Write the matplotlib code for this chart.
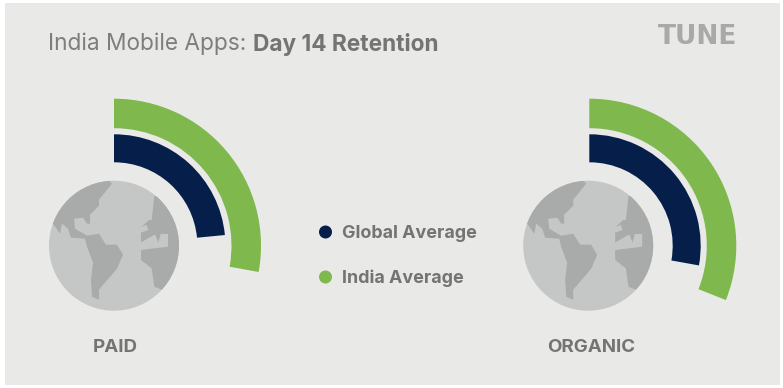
import matplotlib
matplotlib.use("Agg")
import matplotlib.pyplot as plt
import numpy as np
from matplotlib.patches import Circle, Polygon, Rectangle

W, H = 783, 388
BG = "#e9e9e7"
NAVY = "#061f4a"
GREEN = "#7fb84d"
GLOBE = "#c5c7c6"
LAND = "#a9abaa"
TEXT = "#737473"

# sweep of each arc, degrees clockwise from 12 o'clock
panels = ["PAID", "ORGANIC"]
global_avg = [84.5, 100.2]
india_avg = [100.3, 111.7]
legend_labels = ["Global Average", "India Average"]

centers_x = [114, 589.3]
globe_x = [114, 588.2]
label_x = [115, 591.5]
center_y = 245.7

# globe land shapes, pixels from the globe centre
land_left = [(-61, -22), (-54, -12), (-52, -22), (-46, -17), (-43, -8), (-29, -7), (-27, 1),
             (-21, 17), (-23, 34), (-22, 51), (-15, 54), (-15, 44), (3, 23), (9, 9), (3, -1),
             (-8, -1), (-15, -12), (-27, -10), (-39, -17), (-40, -27), (-31, -28), (-27, -22),
             (-24, -22), (-24, -31), (-15, -40), (-15, -46), (-2, -62), (-9, -70), (-70, -70), (-70, -22)]
land_right = [(40.3, -49.7), (37.7, -25.7), (35, -25.7), (27.7, -19), (32.7, -20.7), (34.3, -15.7),
              (27, -13), (27, -3.3), (41, -11.3), (44.3, -3.3), (46.7, -11.7), (54, -11.7), (54, 1),
              (27, 4.3), (27, 14.3), (37.7, 22.7), (40.3, 41), (48.7, 44.3), (75, 40), (75, -50)]


def draw_globe(ax, cx, cy):
    disc = Circle((cx, cy), 65, color=GLOBE, lw=0, zorder=1)
    ax.add_patch(disc)
    for shape in [land_left, land_right]:
        pts = [(cx + p[0], cy + p[1]) for p in shape]
        poly = Polygon(pts, closed=True, color=LAND, lw=0, zorder=2)
        ax.add_patch(poly)
        poly.set_clip_path(disc)


fig = plt.figure(figsize=(W / 100, H / 100), dpi=100, facecolor="white")
ax = fig.add_axes([0, 0, 1, 1])
ax.set_xlim(0, W)
ax.set_ylim(H, 0)
ax.axis("off")

# grey card, thin white border round it
ax.add_patch(Rectangle((5, 3), 775, 382, color=BG, lw=0, zorder=0))

for i in range(len(panels)):
    draw_globe(ax, globe_x[i], center_y)

    # polar axes with its centre on the globe, radius in pixels
    R = 150
    pol = fig.add_axes([(centers_x[i] - R) / W, 1 - (center_y + R) / H, 2 * R / W, 2 * R / H],
                       projection="polar")
    pol.set_theta_zero_location("N")
    pol.set_theta_direction(-1)
    pol.set_ylim(0, R)
    pol.patch.set_alpha(0)
    pol.axis("off")
    pol.bar(0, 28, width=np.radians(global_avg[i]), bottom=83.4, align="edge", color=NAVY, lw=0)
    pol.bar(0, 29.5, width=np.radians(india_avg[i]), bottom=117.5, align="edge", color=GREEN, lw=0)

    ax.text(label_x[i], 347.5, panels[i], ha="center", va="center",
            color=TEXT, fontsize=13.5, fontweight="bold", family="Inter")

# title
t = ax.text(48, 44, "India Mobile Apps: ", ha="left", va="center", color="#7d7e7d", fontsize=16.3,
            family="Inter")
ax.annotate("Day 14 Retention", xy=(1, 0.5), xycoords=t, va="center", color=TEXT, fontsize=16.3,
            fontweight="bold", family="Inter")

# logo
ax.text(697.5, 37.5, "TUNE", ha="center", va="center", color="#a8a9a9", fontsize=19, fontweight="bold",
        family="DejaVu Sans")

# legend
for y, c, lab in zip([232, 277], [NAVY, GREEN], legend_labels):
    ax.add_patch(Circle((325.5, y), 6.5, color=c, lw=0))
    ax.text(342, y + 1, lab, ha="left", va="center", color=TEXT, fontsize=12.9, fontweight="bold",
            family="Inter")

fig.savefig("out.png", dpi=100, facecolor="white")
